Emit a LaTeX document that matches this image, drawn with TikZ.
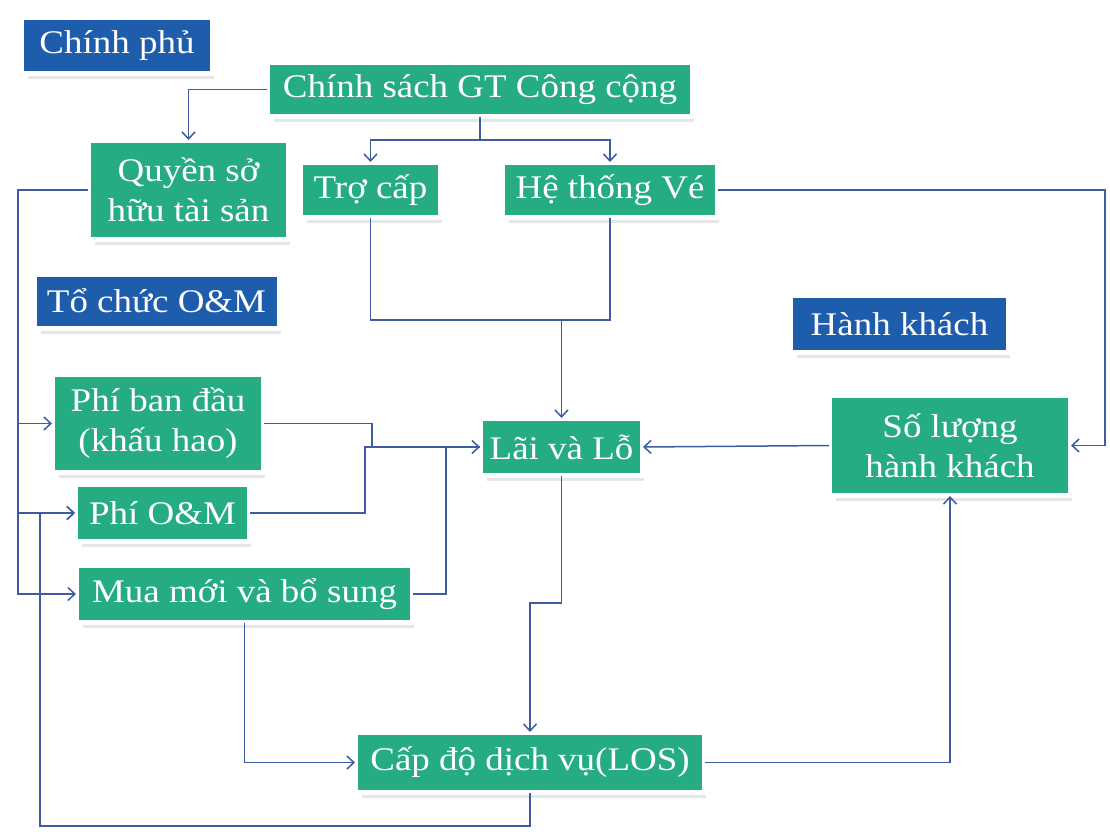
\documentclass[tikz,border=0pt]{standalone}
\usepackage{fontspec}
\setmainfont{Liberation Serif}[FakeStretch=1.12]
\usetikzlibrary{arrows.meta,shadows}

\definecolor{boxgreen}{RGB}{38,172,130}
\definecolor{boxblue}{RGB}{30,92,172}
\definecolor{linkblue}{RGB}{62,92,160}

\tikzset{
  card/.style={rectangle, text=white, inner sep=0pt, outer sep=3pt,
    align=center, font=\fontsize{33}{40}\selectfont,
    drop shadow={shadow xshift=4pt, shadow yshift=-8pt, opacity=0.16, fill=black!60},
    preaction={draw=white, line width=10pt}},
  gbox/.style={card, fill=boxgreen},
  bbox/.style={card, fill=boxblue},
  link/.style={draw=linkblue, line width=1.5pt},
  arr/.style={link, -{Straight Barb[length=7pt,width=13pt,line width=1.5pt]}},
}

\begin{document}
\begin{tikzpicture}[x=1pt, y=-1pt]
\useasboundingbox[fill=white] (0,0) rectangle (1110,834);

% role labels
\node[bbox, minimum width=186, minimum height=51] (gov) at (117,45.5) {Chính phủ};
\node[bbox, minimum width=240, minimum height=49] (omorg) at (156.5,301) {Tổ chức O\&M};
\node[bbox, minimum width=213, minimum height=52] (pax) at (899.5,324) {Hành khách};

% factors
\node[gbox, minimum width=420, minimum height=49] (policy) at (480,89.5) {Chính sách GT Công cộng};
\node[gbox, minimum width=195, minimum height=94] (owner) at (188.5,190) {Quyền sở\\hữu tài sản};
\node[gbox, minimum width=135, minimum height=50] (subsidy) at (370.5,190) {Trợ cấp};
\node[gbox, minimum width=210, minimum height=50] (ticket) at (610,190) {Hệ thống Vé};
\node[gbox, minimum width=236, minimum height=95] (count) at (950,445.5) {Số lượng\\hành khách};
\node[gbox, minimum width=157, minimum height=52] (pl) at (561.5,447) {Lãi và Lỗ};
\node[gbox, minimum width=206, minimum height=93] (initial) at (158,423.5) {Phí ban đầu\\(khấu hao)};
\node[gbox, minimum width=169, minimum height=52] (omcost) at (162.5,513) {Phí O\&M};
\node[gbox, minimum width=331, minimum height=52] (buy) at (244.5,594) {Mua mới và bổ sung};
\node[gbox, minimum width=344, minimum height=55] (los) at (530,762.5) {Cấp độ dịch vụ(LOS)};

% routing points
\coordinate (split) at (480,140);
\coordinate (merge) at (561.5,320);
\coordinate (rside) at (1105,0);
\coordinate (lbus) at (18,0);
\coordinate (loopcorner) at (40,826);

% policy branches
\draw[arr] (policy.west) -| (owner.north);
\draw[link] (policy.south) -- (split);
\draw[arr] (split) -| (subsidy.north);
\draw[arr] (split) -| (ticket.north);

% subsidy and tickets feed profit and loss
\draw[link] (subsidy.south) |- (merge);
\draw[link] (ticket.south) |- (merge);
\draw[arr] (merge) -- (pl.north);

% tickets to ridership
\draw[arr] (ticket.east) -- (ticket.east -| rside) |- (count.east);
\draw[arr] (count.west) -- (pl.east);

% costs feed profit and loss
\draw[arr] (initial.east) -- (372,423.5) |- (pl.west);
\draw[link] (omcost.east) -- (365,513) |- (pl.west);
\draw[link] (buy.east) -- (446,594) |- (pl.west);

% profit and loss to service level
\draw[arr] (pl.south) -- (561.5,603) -| (los.north);
\draw[arr] (buy.south) |- (los.west);
\draw[arr] (los.east) -| (count.south);

% ownership bus on the left
\draw[arr] (owner.west) -- (owner.west -| lbus) |- (buy.west);
\draw[arr] (lbus |- initial.west) -- (initial.west);
\draw[arr] (lbus |- omcost.west) -- (omcost.west);

% feedback loop from service level
\draw[arr] (los.south) |- (loopcorner) |- (omcost.west);
\end{tikzpicture}
\end{document}
